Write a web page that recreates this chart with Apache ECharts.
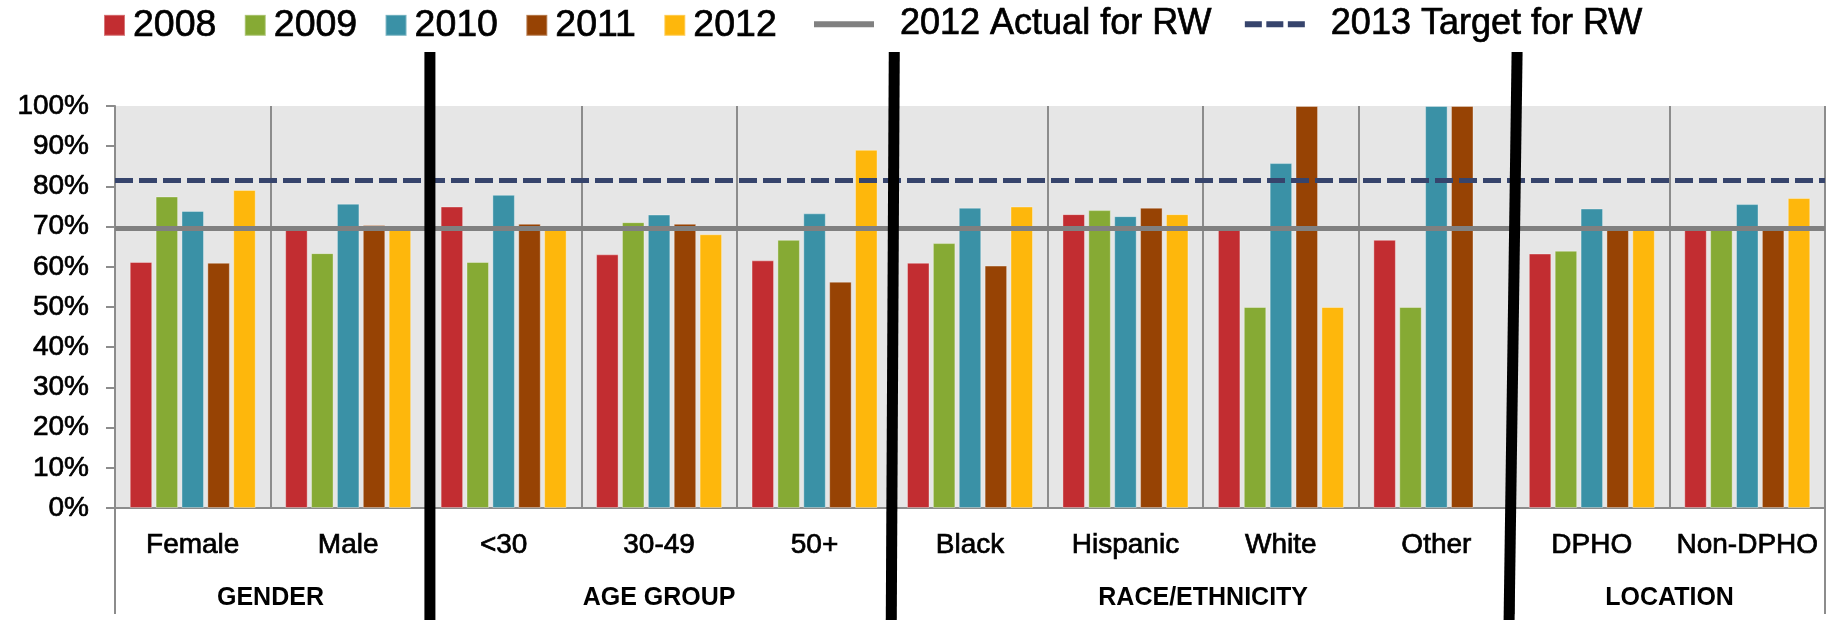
<!DOCTYPE html>
<html>
<head>
<meta charset="utf-8">
<script src="https://cdn.jsdelivr.net/npm/echarts@6/dist/echarts.min.js"></script>
<style>
  html, body { margin: 0; padding: 0; background: #ffffff; }
  #chart { width: 1835px; height: 621px; }
</style>
</head>
<body>
<div id="chart"></div>
<script>
// Subgroups along the x axis, and the groups they belong to
const categories = ['Female', 'Male', '<30', '30-49', '50+', 'Black', 'Hispanic', 'White', 'Other', 'DPHO', 'Non-DPHO'];
const groupNames = ['GENDER', 'AGE GROUP', 'RACE/ETHNICITY', 'LOCATION'];
const groupSizes = [2, 3, 4, 2];

// Yearly rates (%) per subgroup
const years = ['2008', '2009', '2010', '2011', '2012'];
const values2008 = [61.2, 69.5, 75.0, 63.1, 61.6, 61.0, 73.1, 69.5, 66.7, 63.3, 69.5];
const values2009 = [77.5, 63.4, 61.2, 71.1, 66.7, 65.9, 74.1, 50.0, 50.0, 64.0, 69.5];
const values2010 = [73.9, 75.7, 77.9, 73.0, 73.3, 74.7, 72.6, 85.8, 100, 74.5, 75.6];
const values2011 = [61.0, 70.4, 70.7, 70.7, 56.3, 60.3, 74.7, 100, 100, 69.5, 69.5];
const values2012 = [79.1, 69.5, 69.5, 68.1, 89.1, 75.0, 73.1, 50.0, null, 69.5, 77.1];
const yearValues = [values2008, values2009, values2010, values2011, values2012];

// Reference levels (%)
const actualName = '2012 Actual for RW';
const targetName = '2013 Target for RW';
const actual2012 = 69.7;
const target2013 = 81.5;

// Value axis range and step (%)
const yMin = 0;
const yMax = 100;
const yStep = 10;

const barColors = ['#C22D31', '#86AA34', '#3A91A6', '#974304', '#FEB70C'];
const FONT = '"Liberation Sans", Arial, sans-serif';
const AXIS_GREY = '#8C8C8C';
// A hairline outline on the glyphs gives the text a slightly heavier weight
const heavy = { textBorderColor: '#000', textBorderWidth: 0.7 };

// Group boundaries and midpoints in category units
const groupEdges = [0];
groupSizes.forEach(function (s) { groupEdges.push(groupEdges[groupEdges.length - 1] + s); });
const groupMids = groupSizes.map(function (s, i) { return groupEdges[i] + s / 2; });

const chart = echarts.init(document.getElementById('chart'), null, { renderer: 'canvas' });

const barSeries = years.map(function (y, i) {
  return {
    name: y,
    type: 'bar',
    xAxisIndex: 0,
    yAxisIndex: 0,
    data: yearValues[i],
    barWidth: 22.5,
    barGap: '15%',
    itemStyle: {
      color: barColors[i],
      borderColor: 'rgba(255,255,255,0.35)',
      borderWidth: 1
    },
    silent: true,
    z: 2
  };
});

function refLine(name, value, color, type, width) {
  return {
    name: name,
    type: 'line',
    xAxisIndex: 0,
    yAxisIndex: 0,
    data: [],
    symbol: 'none',
    lineStyle: { color: color, width: width, type: type },
    itemStyle: { color: color },
    z: 5,
    markLine: {
      silent: true,
      symbol: 'none',
      label: { show: false },
      lineStyle: { color: color, width: width, type: type },
      emphasis: { disabled: true },
      data: [{ yAxis: value }],
      z: 5
    }
  };
}

const option = {
  animation: false,
  backgroundColor: '#ffffff',
  textStyle: { fontFamily: FONT },
  legend: [
    {
      data: years,
      left: 103,
      top: 6,
      padding: 0,
      icon: 'rect',
      itemWidth: 21,
      itemHeight: 21,
      itemGap: 27,
      selectedMode: false,
      textStyle: Object.assign({ fontSize: 37.5, color: '#000', fontFamily: FONT, padding: [0, 0, 0, 3] }, heavy)
    },
    {
      data: [
        { name: actualName, icon: 'path://M0,0H60V6H0Z' },
        { name: targetName, icon: 'path://M0,0.5H17V5.5H0Z M21.5,0.5H38.5V5.5H21.5Z M43,0.5H60V5.5H43Z' }
      ],
      left: 814,
      top: 6,
      padding: 0,
      itemWidth: 60,
      itemHeight: 6,
      itemGap: 33,
      symbolKeepAspect: false,
      selectedMode: false,
      textStyle: Object.assign({ fontSize: 36, color: '#000', fontFamily: FONT, padding: [0, 0, 0, 21] }, heavy)
    }
  ],
  grid: {
    left: 115,
    right: 10,
    top: 106,
    bottom: 113,
    show: true,
    backgroundColor: '#E6E6E6',
    borderWidth: 0,
    containLabel: false
  },
  xAxis: [
    {
      type: 'category',
      data: categories,
      boundaryGap: true,
      axisLine: { show: true, lineStyle: { color: AXIS_GREY, width: 2 } },
      axisTick: { show: false },
      splitLine: { show: true, interval: 0, lineStyle: { color: AXIS_GREY, width: 2 } },
      axisLabel: Object.assign({ interval: 0, margin: 23, fontSize: 28, color: '#000', fontFamily: FONT }, heavy)
    },
    {
      type: 'value',
      position: 'bottom',
      min: 0,
      max: categories.length,
      axisLine: { show: false },
      splitLine: { show: false },
      axisTick: {
        show: true,
        customValues: groupEdges,
        length: 106,
        lineStyle: { color: AXIS_GREY, width: 2 }
      },
      axisLabel: {
        show: true,
        customValues: groupMids,
        margin: 78,
        fontSize: 25,
        fontWeight: 'bold',
        color: '#000',
        fontFamily: FONT,
        formatter: function (v) {
          const i = groupMids.indexOf(v);
          return i >= 0 ? groupNames[i] : '';
        }
      }
    }
  ],
  yAxis: {
    type: 'value',
    min: yMin,
    max: yMax,
    interval: yStep,
    axisLine: { show: true, lineStyle: { color: AXIS_GREY, width: 2 } },
    axisTick: { show: true, length: 9, lineStyle: { color: AXIS_GREY, width: 2 } },
    splitLine: { show: false },
    axisLabel: Object.assign({ formatter: '{value}%', fontSize: 28, margin: 26, color: '#000', fontFamily: FONT }, heavy)
  },
  series: barSeries.concat([
    refLine(actualName, actual2012, '#808080', 'solid', 5),
    refLine(targetName, target2013, '#36446C', [18, 6], 5)
  ])
};

chart.setOption(option);

// Heavy black dividers between the groups (slight hand-drawn tilt: [top, bottom] offsets)
const dividerTilt = [[4, 4], [2, -1], [3, -5]];
const dividerTop = 52;
const dividerBottom = 620;
const dividers = groupEdges.slice(1, -1).map(function (edge, i) {
  const x = chart.convertToPixel({ xAxisIndex: 1 }, edge);
  return {
    type: 'line',
    silent: true,
    z: 100,
    shape: { x1: x + dividerTilt[i][0], y1: dividerTop, x2: x + dividerTilt[i][1], y2: dividerBottom },
    style: { stroke: '#000', lineWidth: 11 }
  };
});
chart.setOption({ graphic: dividers });
</script>
</body>
</html>
